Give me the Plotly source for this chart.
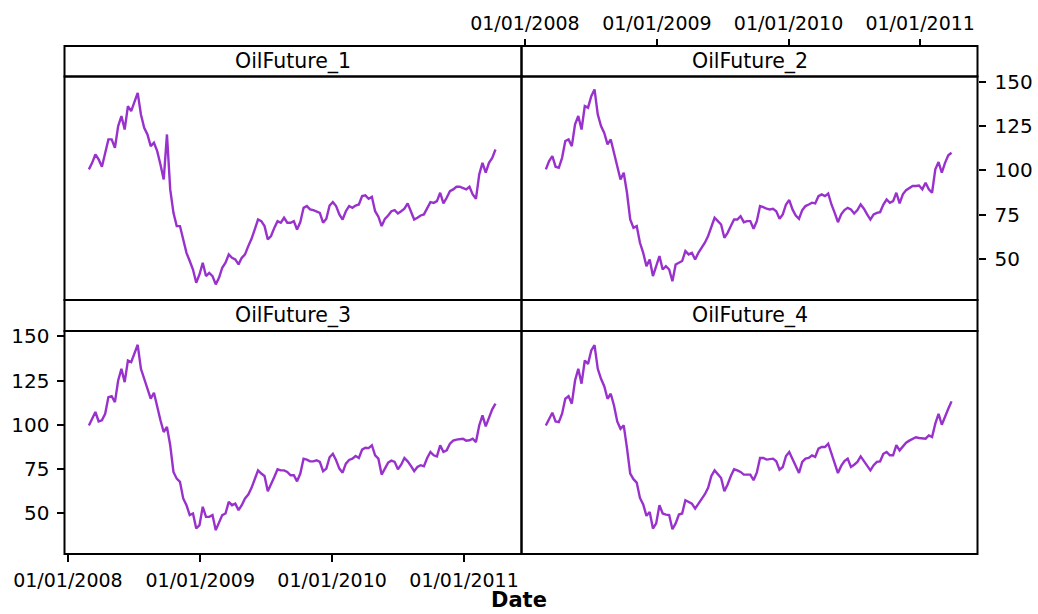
import pandas as pd
import plotly.graph_objects as go

# ---------------- data ----------------
start_date = "2008-02-28"
step = "9D"

oil_1 = [100.6,104.3,109.0,106.2,102.1,109.0,117.5,117.5,112.8,125.0,
         130.7,123.1,136.3,133.5,139.1,143.8,131.6,124.1,120.3,113.7,
         115.6,110.9,103.4,94.9,120.3,89.3,76.1,68.6,68.6,61.1,
         53.5,48.9,44.1,36.6,41.3,47.9,40.4,42.2,40.4,35.7,
         39.4,45.1,47.9,52.6,50.7,49.8,47.0,50.7,52.6,57.3,
         61.4,66.7,72.3,71.4,68.6,61.1,63.0,67.6,71.4,70.5,
         73.3,70.5,
         70.5,71.4,66.7,70.9,78.9,79.9,78.0,77.6,77.0,76.1,
         70.5,72.7,80.2,82.1,79.9,75.2,72.3,77.0,79.9,78.9,
         80.2,80.8,85.5,85.9,84.0,85.1,77.0,73.9,68.6,72.7,
         74.6,77.0,77.6,75.7,77.0,78.4,81.4,77.0,72.3,73.3,
         74.6,75.2,78.9,82.1,81.7,82.7,87.4,81.4,84.6,88.3,
         89.3,90.8,90.8,90.2,89.3,90.8,86.5,84.0,97.7,104.3,
         98.7,104.3,107.1,111.8]

oil_2 = [100.6,105.3,108.1,102.1,101.5,107.1,116.6,117.5,113.7,126.0,
         130.7,123.1,136.3,135.4,141.9,145.7,131.6,125.0,121.2,114.7,
         117.5,110.0,103.4,94.9,98.7,87.4,72.3,67.6,68.6,59.2,
         53.5,46.0,49.8,40.4,46.0,51.7,44.1,46.0,44.1,37.5,
         46.9,47.9,48.9,54.5,52.6,53.5,49.8,53.5,56.4,59.2,
         63.0,68.6,73.3,71.4,69.5,62.0,64.8,68.6,72.3,72.3,
         74.2,70.8,
         71.4,71.4,67.1,71.4,79.9,79.3,78.4,78.0,78.4,77.0,
         72.7,75.2,80.8,83.3,78.0,74.6,72.7,77.6,79.9,80.8,
         81.8,81.4,85.5,86.5,85.5,87.0,80.8,76.1,70.8,75.2,
         77.6,78.9,78.0,75.7,77.6,80.8,78.4,75.2,72.3,75.2,
         76.1,76.5,80.8,83.6,81.7,82.7,87.4,81.4,86.5,88.9,
         90.2,91.2,91.2,91.5,89.3,93.0,89.3,87.4,100.6,104.7,
         98.7,104.3,108.5,110.0]

oil_3 = [99.6,103.0,107.2,101.9,102.5,106.2,115.6,116.2,112.8,125.0,
         131.6,124.1,136.3,135.4,140.1,145.2,131.6,126.0,120.3,114.7,
         118.1,110.0,102.5,95.9,98.7,88.4,73.3,69.5,67.7,58.3,
         54.5,48.9,49.8,41.3,43.2,53.6,47.9,47.9,48.9,40.4,
         44.2,48.9,49.8,56.4,54.5,55.4,51.7,54.5,58.3,60.5,
         64.3,69.9,74.2,72.4,71.0,62.4,66.2,70.5,74.8,74.2,
         74.2,73.3,
         71.4,71.4,68.0,72.4,80.8,80.3,79.3,79.3,79.9,79.0,
         73.7,75.2,81.6,83.6,79.9,75.2,72.9,78.0,80.1,80.8,
         82.3,81.2,85.9,87.0,86.8,88.4,82.7,80.8,71.8,75.6,
         78.6,79.7,79.0,74.8,77.4,81.2,79.3,76.7,73.7,76.1,
         77.1,76.5,81.2,84.6,82.7,82.1,88.4,84.6,85.5,89.3,
         91.0,91.6,91.7,92.1,91.0,91.2,92.1,90.2,99.6,105.3,
         99.1,104.3,108.7,111.9]

oil_4 = [99.6,103.0,106.8,101.9,101.5,106.2,114.7,116.2,111.9,125.0,
         131.6,123.2,136.3,134.4,142.0,145.0,131.6,126.0,121.8,114.7,
         117.5,110.9,101.9,97.7,99.6,86.8,72.4,69.2,67.3,58.6,
         54.9,48.5,50.7,41.3,44.2,54.5,49.8,49.2,48.9,40.9,
         44.2,49.2,49.8,57.3,56.4,55.4,52.6,55.4,58.6,60.7,
         64.3,71.0,74.2,71.8,69.9,62.4,66.2,71.0,74.8,74.2,
         73.3,71.8,
         71.8,71.8,68.6,72.9,81.2,81.2,80.3,80.5,80.8,79.3,
         74.6,76.1,82.3,84.6,80.5,76.7,72.7,79.0,80.8,81.2,
         82.7,81.8,86.5,87.4,87.4,89.3,83.6,79.0,72.7,76.7,
         79.5,80.8,76.1,77.4,79.0,82.1,79.3,76.7,74.2,77.1,
         79.0,79.3,83.6,84.6,82.7,82.7,88.4,85.5,87.4,89.8,
         91.0,92.1,92.9,92.5,92.5,92.1,94.0,93.1,100.6,106.2,
         100.0,104.9,109.0,113.2]

panel_names = ["OilFuture_1", "OilFuture_2", "OilFuture_3", "OilFuture_4"]
x_tick_vals = ["2008-01-01", "2009-01-01", "2010-01-01", "2011-01-01"]
x_tick_text = ["01/01/2008", "01/01/2009", "01/01/2010", "01/01/2011"]
y_tick_vals = [50, 75, 100, 125, 150]
x_title = "Date"

# ---------------- layout helpers ----------------
W, H = 1038, 614
def px(x):
    return x / W
def py(y):
    return 1 - y / H

LEFT, MID, RIGHT = 64.5, 521.5, 977.5
STRIP_TOP = [46, 300]
PLOT_TOP = [76.5, 331]
PLOT_BOT = [300, 554]

x_range = ["2007-12-22 12:00", "2011-06-09"]
y_range = [26.9, 153.0]
LINE_COLOR = "#9932CC"
FONT = "DejaVu Sans"
xtick_font = dict(family=FONT, size=19, color="black")
ytick_font = dict(family=FONT, size=20, color="black")

dates = pd.date_range(start_date, periods=len(oil_1), freq=step)
series = [oil_1, oil_2, oil_3, oil_4]

fig = go.Figure()
for i, vals in enumerate(series):
    sfx = "" if i == 0 else str(i + 1)
    fig.add_trace(go.Scatter(x=dates, y=vals, mode="lines",
                             line=dict(color=LINE_COLOR, width=2.4),
                             xaxis="x" + sfx, yaxis="y" + sfx,
                             hoverinfo="skip", showlegend=False))

def blank_axis(**kw):
    d = dict(showgrid=False, zeroline=False, showline=False,
             showticklabels=False, ticks="", automargin=False)
    d.update(kw)
    return d

xdom_l = [px(LEFT), px(MID)]
xdom_r = [px(MID), px(RIGHT)]
ydom_t = [py(PLOT_BOT[0]), py(PLOT_TOP[0])]
ydom_b = [py(PLOT_BOT[1]), py(PLOT_TOP[1])]

tick_style = dict(ticks="outside", ticklen=7, tickwidth=2, tickcolor="black",
                  showgrid=False, zeroline=False,
                  showline=False, automargin=False)

fig.update_layout(
    width=W, height=H,
    margin=dict(l=0, r=0, t=0, b=0, autoexpand=False),
    paper_bgcolor="white", plot_bgcolor="white",
    showlegend=False,
    xaxis=blank_axis(domain=xdom_l, range=x_range, type="date", anchor="y"),
    yaxis=blank_axis(domain=ydom_t, range=y_range, anchor="x"),
    xaxis2=dict(domain=xdom_r, range=x_range, type="date", side="top",
                anchor="free", position=py(STRIP_TOP[0]),
                tickvals=x_tick_vals, ticktext=x_tick_text, tickfont=xtick_font,
                ticklabelstandoff=1, **tick_style),
    yaxis2=dict(domain=ydom_t, range=y_range, anchor="x2", side="right",
                tickvals=y_tick_vals, tickfont=ytick_font,
                ticklabelstandoff=5, **tick_style),
    xaxis3=dict(domain=xdom_l, range=x_range, type="date", anchor="y3",
                tickvals=x_tick_vals, ticktext=x_tick_text, tickfont=xtick_font,
                ticklabelstandoff=2, **tick_style),
    yaxis3=dict(domain=ydom_b, range=y_range, anchor="x3", side="left",
                tickvals=y_tick_vals, tickfont=ytick_font,
                ticklabelstandoff=3, **tick_style),
    xaxis4=blank_axis(domain=xdom_r, range=x_range, type="date", anchor="y4"),
    yaxis4=blank_axis(domain=ydom_b, range=y_range, anchor="x4"),
)

shapes = []
annotations = []
cols = [(LEFT, MID), (MID, RIGHT)]
for r in range(2):
    for c in range(2):
        x0, x1 = cols[c]
        # strip
        shapes.append(dict(type="rect", xref="paper", yref="paper",
                           x0=px(x0), x1=px(x1), y0=py(PLOT_TOP[r]), y1=py(STRIP_TOP[r]),
                           line=dict(color="black", width=2), fillcolor="rgba(0,0,0,0)"))
        # panel
        shapes.append(dict(type="rect", xref="paper", yref="paper",
                           x0=px(x0), x1=px(x1), y0=py(PLOT_BOT[r]), y1=py(PLOT_TOP[r]),
                           line=dict(color="black", width=2), fillcolor="rgba(0,0,0,0)"))
        annotations.append(dict(text=panel_names[r * 2 + c], xref="paper", yref="paper",
                                x=px((x0 + x1) / 2), y=py((STRIP_TOP[r] + PLOT_TOP[r]) / 2),
                                xanchor="center", yanchor="middle", showarrow=False,
                                font=dict(family=FONT, size=20.5, color="black")))

annotations.append(dict(text="<b>" + x_title + "</b>", xref="paper", yref="paper",
                        x=px(519), y=0, xanchor="center", yanchor="bottom",
                        yshift=0, showarrow=False,
                        font=dict(family=FONT, size=21, color="black")))

fig.update_layout(shapes=shapes, annotations=annotations)

fig.write_html("out.html")
